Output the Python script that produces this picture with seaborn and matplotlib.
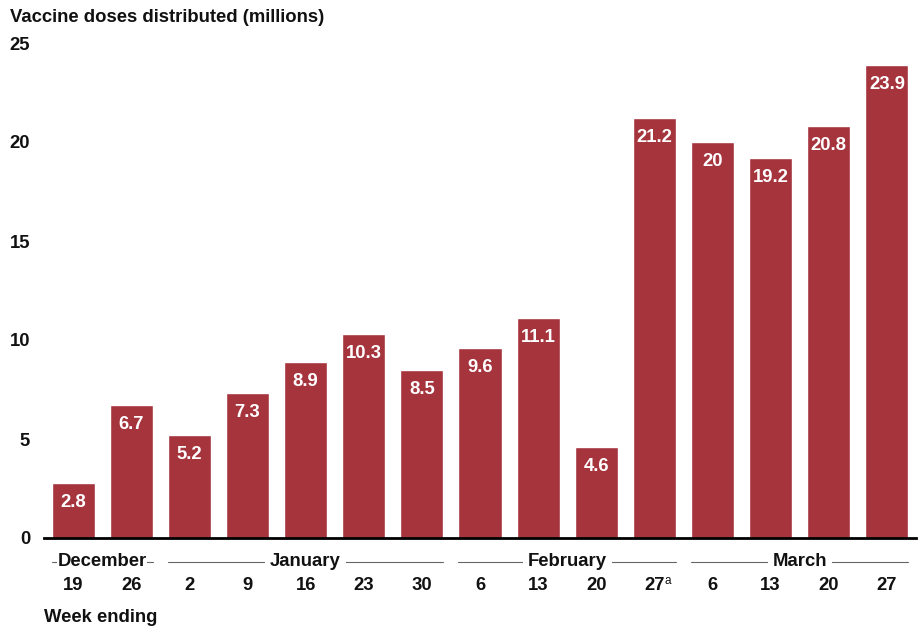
import numpy as np
import pandas as pd
import matplotlib
matplotlib.use("Agg")
import matplotlib.pyplot as plt
import matplotlib.transforms as mtransforms
import seaborn as sns

# data
week_keys = ["Dec 19", "Dec 26", "Jan 2", "Jan 9", "Jan 16", "Jan 23", "Jan 30",
             "Feb 6", "Feb 13", "Feb 20", "Feb 27", "Mar 6", "Mar 13", "Mar 20", "Mar 27"]
week_days = ["19", "26", "2", "9", "16", "23", "30",
             "6", "13", "20", "27", "6", "13", "20", "27"]
doses = [2.8, 6.7, 5.2, 7.3, 8.9, 10.3, 8.5, 9.6, 11.1, 4.6, 21.2, 20, 19.2, 20.8, 23.9]
months = ["December", "January", "February", "March"]
month_spans = [(0, 1), (2, 6), (7, 10), (11, 14)]  # first/last bar index of each month
footnote_bar = 10  # week with the "a" footnote
y_ticks = [0, 5, 10, 15, 20, 25]

BAR_COLOR = "#A5343D"
TEXT_COLOR = "#111111"
FS = 13.3

sns.set_theme(style="white")
plt.rcParams["font.family"] = ["Liberation Sans", "DejaVu Sans"]
plt.rcParams["font.weight"] = "bold"

df = pd.DataFrame({"week": week_keys, "doses": doses})

fig = plt.figure(figsize=(9.18, 6.28), dpi=100)
ax = fig.add_axes([44 / 918, 90 / 628, 872 / 918, 495 / 628])

sns.barplot(data=df, x="week", y="doses", order=week_keys, color=BAR_COLOR,
            saturation=1, width=0.74, ax=ax)

ax.set_ylim(0, 25)
ax.set_xlim(-0.5, len(week_keys) - 0.5)
ax.set_yticks(y_ticks)
ax.set_yticklabels([str(t) for t in y_ticks], fontsize=FS, fontweight="bold")
ax.set_xticks(range(len(week_keys)))
ax.set_xticklabels(week_days, fontsize=FS, fontweight="bold")
ax.tick_params(axis="x", length=0, pad=28, colors=TEXT_COLOR)
ax.tick_params(axis="y", length=0, pad=10, colors=TEXT_COLOR)
ax.set_xlabel("")
ax.set_ylabel("")

for side in ["top", "right", "left"]:
    ax.spines[side].set_visible(False)
ax.spines["bottom"].set_color("black")
ax.spines["bottom"].set_linewidth(2)

# value labels inside the bar tops
for patch, val in zip(ax.patches, doses):
    ax.annotate(f"{val:g}", (patch.get_x() + patch.get_width() / 2, patch.get_height()),
                xytext=(0, -14), textcoords="offset points", ha="center", va="center",
                color="white", fontsize=FS, fontweight="bold")

trans = mtransforms.blended_transform_factory(ax.transData, ax.transAxes)

# footnote marker next to the "27" tick label
ax.annotate("a", (footnote_bar, 0), xycoords=trans, xytext=(7.5, -27),
            textcoords="offset points", ha="left", va="top", fontsize=8.5,
            fontweight="normal", color=TEXT_COLOR)

# month labels with a thin rule behind them
month_y = -24 / 495
half = 0.74 / 2
for name, (first, last) in zip(months, month_spans):
    ax.plot([first - half, last + half], [month_y, month_y], transform=trans,
            color="#666666", lw=0.8, clip_on=False)
    # December barely fits its two bars, so keep its gap tight
    gap = 0.3 if last - first < 2 else 3.5
    ax.text((first + last) / 2, month_y, name, transform=trans, ha="center", va="center",
            fontsize=FS, fontweight="bold", color=TEXT_COLOR,
            bbox=dict(facecolor="white", edgecolor="none", pad=gap))

fig.text(10 / 918, 1 - 17 / 628, "Vaccine doses distributed (millions)", ha="left",
         va="center", fontsize=FS, fontweight="bold", color=TEXT_COLOR)
fig.text(44 / 918, 1 - 617 / 628, "Week ending", ha="left", va="center",
         fontsize=FS, fontweight="bold", color=TEXT_COLOR)

fig.savefig("out.png", dpi=100)
